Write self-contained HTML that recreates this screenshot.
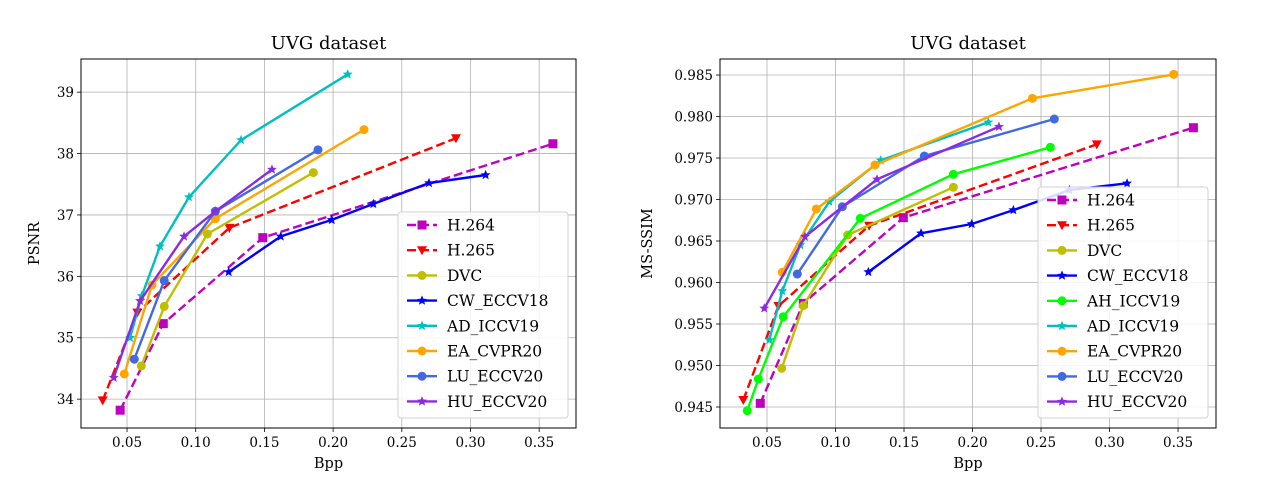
<!DOCTYPE html>
<html><head><meta charset="utf-8"><style>
body{margin:0;background:#fff;}
svg{display:block;font-family:"DejaVu Serif","Liberation Serif",serif;}
</style></head><body>
<svg id="fig" width="1280" height="480" xmlns="http://www.w3.org/2000/svg"></svg>
<script>
const names = ["H.264","H.265","DVC","CW_ECCV18","AH_ICCV19","AD_ICCV19","EA_CVPR20","LU_ECCV20","HU_ECCV20"];
const colors = ["#bf00bf","#ff0000","#bfbf00","#0000ff","#00ff00","#00bfbf","#ffa500","#4169e1","#8a2be2"];
const markers = ["s","v","o","*","o","*","o","o","*"];
const dashed = [true,true,false,false,false,false,false,false,false];

// PSNR chart data
const psnrX = {
 "H.264":[0.045,0.0764,0.1488,0.360],
 "H.265":[0.0323,0.0575,0.1245,0.2894],
 "DVC":[0.0604,0.0771,0.1085,0.1856],
 "CW_ECCV18":[0.124,0.1619,0.199,0.2293,0.2698,0.311],
 "AD_ICCV19":[0.0522,0.0607,0.074,0.0951,0.133,0.2106],
 "EA_CVPR20":[0.048,0.0682,0.1143,0.2225],
 "LU_ECCV20":[0.0553,0.0771,0.1143,0.189],
 "HU_ECCV20":[0.0403,0.0595,0.0915,0.1143,0.1555]
};
const psnrY = {
 "H.264":[33.82,35.23,36.63,38.16],
 "H.265":[33.98,35.41,36.79,38.25],
 "DVC":[34.54,35.51,36.69,37.69],
 "CW_ECCV18":[36.07,36.65,36.92,37.18,37.52,37.65],
 "AD_ICCV19":[35.0,35.68,36.49,37.29,38.22,39.29],
 "EA_CVPR20":[34.41,35.86,36.94,38.39],
 "LU_ECCV20":[34.65,35.93,37.06,38.06],
 "HU_ECCV20":[34.35,35.6,36.65,37.06,37.74]
};
// MS-SSIM chart data
const ssimX = {
 "H.264":[0.0451,0.0765,0.1495,0.3612],
 "H.265":[0.0327,0.0583,0.1245,0.2907],
 "DVC":[0.0607,0.0765,0.1089,0.186],
 "CW_ECCV18":[0.124,0.1624,0.1994,0.2298,0.2707,0.3128],
 "AH_ICCV19":[0.0356,0.0437,0.0619,0.1181,0.186,0.2568],
 "AD_ICCV19":[0.0517,0.0612,0.0743,0.0955,0.133,0.2115],
 "EA_CVPR20":[0.0612,0.086,0.1288,0.2437,0.3469],
 "LU_ECCV20":[0.0721,0.105,0.1648,0.2597],
 "HU_ECCV20":[0.048,0.0777,0.1303,0.2193]
};
const ssimY = {
 "H.264":[0.94544,0.95749,0.96781,0.97865],
 "H.265":[0.94584,0.95717,0.96684,0.97665],
 "DVC":[0.94966,0.9572,0.96572,0.97147],
 "CW_ECCV18":[0.96127,0.96593,0.96705,0.96873,0.97114,0.97195],
 "AH_ICCV19":[0.94456,0.94837,0.95588,0.96773,0.97304,0.97629],
 "AD_ICCV19":[0.95307,0.95898,0.96452,0.96974,0.97472,0.9793],
 "EA_CVPR20":[0.96123,0.96886,0.97416,0.98219,0.98508],
 "LU_ECCV20":[0.96102,0.96913,0.97524,0.9797],
 "HU_ECCV20":[0.95689,0.96552,0.97243,0.97877]
};
const xTicks = [0.05,0.10,0.15,0.20,0.25,0.30,0.35];
const xTickLabels = ["0.05","0.10","0.15","0.20","0.25","0.30","0.35"];
const psnrTicks = [34,35,36,37,38,39];
const ssimTicks = [0.945,0.950,0.955,0.960,0.965,0.970,0.975,0.980,0.985];

const NS="http://www.w3.org/2000/svg";
const svg=document.getElementById('fig');
function mk(tag,attrs,parent){const e=document.createElementNS(NS,tag);for(const k in attrs)e.setAttribute(k,attrs[k]);(parent||svg).appendChild(e);return e;}

function markerEl(g,type,x,y,color){
  let e;
  if(type==="o"){e=mk('circle',{cx:x,cy:y,r:4.5,fill:color},g);}
  else if(type==="s"){e=mk('rect',{x:x-4.5,y:y-4.5,width:9,height:9,fill:color},g);}
  else if(type==="v"){e=mk('polygon',{points:`${x-5},${y-4} ${x+5},${y-4} ${x},${y+5}`,fill:color},g);}
  else {let p=[];for(let i=0;i<10;i++){const r=i%2?2.3:5.2;const a=-Math.PI/2+i*Math.PI/5;p.push((x+r*Math.cos(a)).toFixed(1)+","+(y+r*Math.sin(a)).toFixed(1));}
    e=mk('polygon',{points:p.join(" "),fill:color},g);}
  
  
  return e;
}

function chart(cfg){
  const {L,R,T,B,x0,x1,y0,y1,yTicks,yFmt,X,Y,ytitle,ytx,legend,prefix}=cfg;
  const sx=v=>L+(v-x0)/(x1-x0)*(R-L);
  const sy=v=>B-(v-y0)/(y1-y0)*(B-T);
  const g=mk('g',{});
  
  
  xTicks.forEach((t,i)=>{const x=sx(t);
    mk('line',{x1:x,x2:x,y1:T,y2:B,stroke:'#b0b0b0','stroke-width':0.8},g);
    mk('line',{x1:x,x2:x,y1:B,y2:B+4,stroke:'#000','stroke-width':0.8},g);
    const t2=mk('text',{x:x,y:B+19,'text-anchor':'middle','font-size':13.5},g);t2.textContent=xTickLabels[i];
    });
  yTicks.forEach(t=>{const y=sy(t);
    mk('line',{x1:L,x2:R,y1:y,y2:y,stroke:'#b0b0b0','stroke-width':0.8},g);
    mk('line',{x1:L-4,x2:L,y1:y,y2:y,stroke:'#000','stroke-width':0.8},g);
    const t2=mk('text',{x:L-7,y:y+5,'text-anchor':'end','font-size':13.5},g);t2.textContent=yFmt(t);
    });
  names.forEach((n,i)=>{ if(!X[n])return;
    const sg=mk('g',{},g);
    
    
    const pts=X[n].map((v,j)=>sx(v).toFixed(1)+","+sy(Y[n][j]).toFixed(1)).join(" ");
    mk('polyline',{points:pts,fill:'none',stroke:colors[i],'stroke-width':2.4,'stroke-dasharray':dashed[i]?'9,4':'none'},sg);
    X[n].forEach((v,j)=>markerEl(sg,markers[i],sx(v),sy(Y[n][j]),colors[i]));
  });
  mk('rect',{x:L,y:T,width:R-L,height:B-T,fill:'none',stroke:'#000','stroke-width':1},g);
  const ti=mk('text',{x:(L+R)/2,y:T-10,'text-anchor':'middle','font-size':18},g);ti.textContent='UVG dataset';
  
  const xl=mk('text',{x:(L+R)/2,y:B+40,'text-anchor':'middle','font-size':14.5},g);xl.textContent='Bpp';
  
  const yl=mk('text',{x:ytx,y:(T+B)/2,'text-anchor':'middle','font-size':14.5,transform:`rotate(-90 ${ytx} ${(T+B)/2})`},g);yl.textContent=ytitle;
  
  const lg=mk('g',{},g);
  
  mk('rect',{x:legend.x,y:legend.y,width:legend.w,height:legend.h,rx:3,fill:'#fff','fill-opacity':0.85,stroke:'#d0d0d0'},lg);
  let k=0;
  names.forEach((n,i)=>{ if(!X[n])return;
    const yy=legend.y0+k*25.2;k++;
    const eg=mk('g',{},lg);
    
    mk('line',{x1:legend.x+9,x2:legend.x+39,y1:yy,y2:yy,stroke:colors[i],'stroke-width':2.4,'stroke-dasharray':dashed[i]?'9,4':'none'},eg);
    markerEl(eg,markers[i],legend.x+24,yy,colors[i]);
    const t=mk('text',{x:legend.x+49,y:yy+5.5,'font-size':15.5},eg);t.textContent=n;
  });
}

chart({L:81,R:576,T:59,B:428,x0:0.0165,x1:0.3768,y0:33.53,y1:39.54,yTicks:psnrTicks,yFmt:t=>String(t),
  X:psnrX,Y:psnrY,ytitle:'PSNR',ytx:39,prefix:'psnr',legend:{x:398,y:212,w:170,h:206,y0:225}});
chart({L:720,R:1216,T:59,B:428,x0:0.0157,x1:0.3777,y0:0.94247,y1:0.98693,yTicks:ssimTicks,yFmt:t=>t.toFixed(3),
  X:ssimX,Y:ssimY,ytitle:'MS-SSIM',ytx:652,prefix:'ssim',legend:{x:1038,y:187,w:170,h:231,y0:200}});
</script>
</body></html>
